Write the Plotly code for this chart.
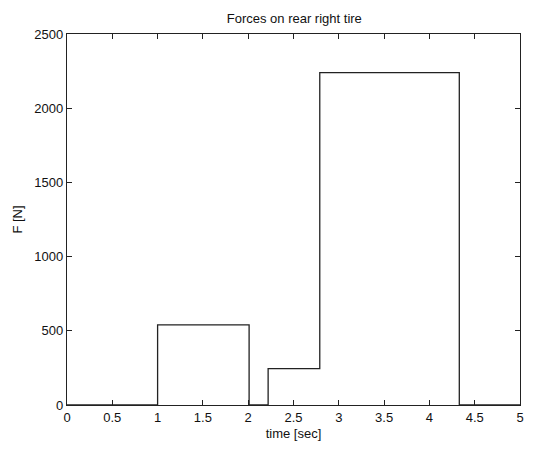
import plotly.graph_objects as go

# Step-wise force profile on the rear right tire
time_s = [0, 1.0, 2.01, 2.22, 2.79, 4.33, 5.0]
force_n = [0, 540, 0, 245, 2240, 0, 0]

x_ticks = [0, 0.5, 1, 1.5, 2, 2.5, 3, 3.5, 4, 4.5, 5]
x_tick_labels = ["0", "0.5", "1", "1.5", "2", "2.5", "3", "3.5", "4", "4.5", "5"]
y_ticks = [0, 500, 1000, 1500, 2000, 2500]
y_tick_labels = ["0", "500", "1000", "1500", "2000", "2500"]

FONT = dict(family="Liberation Sans, Arial", size=13, color="#111111")

fig = go.Figure(
    go.Scatter(
        x=time_s,
        y=force_n,
        mode="lines",
        line=dict(color="#222222", width=1.3, shape="hv"),
        showlegend=False,
    )
)

axis_common = dict(
    showline=True,
    linecolor="#222222",
    linewidth=1.3,
    mirror="ticks",
    ticks="inside",
    ticklen=5,
    tickcolor="#222222",
    showgrid=False,
    zeroline=False,
    tickfont=FONT,
)

fig.update_layout(
    width=538,
    height=451,
    margin=dict(l=67, r=18, t=34, b=44),
    paper_bgcolor="white",
    plot_bgcolor="white",
    title=dict(
        text="Forces on rear right tire",
        x=0.547,
        xanchor="center",
        y=0.958,
        yanchor="middle",
        font=FONT,
    ),
    xaxis=dict(
        range=[0, 5],
        tickvals=x_ticks,
        ticktext=x_tick_labels,
        title=dict(text="time [sec]", standoff=5, font=FONT),
        **axis_common,
    ),
    yaxis=dict(
        range=[0, 2500],
        tickvals=y_ticks,
        ticktext=y_tick_labels,
        title=dict(text="F [N]", standoff=8, font=FONT),
        **axis_common,
    ),
)

fig.write_html("out.html")
